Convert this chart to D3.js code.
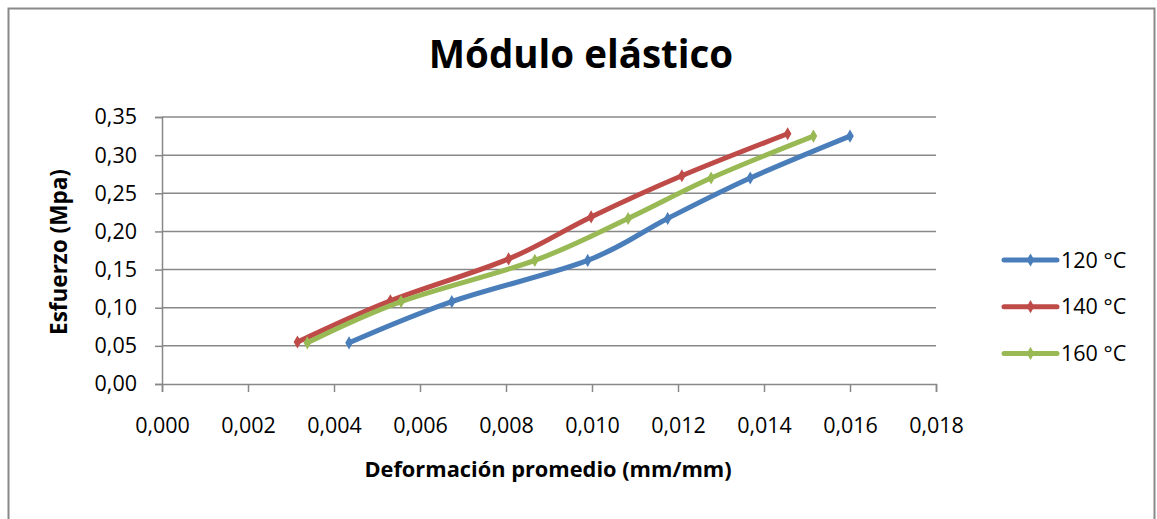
<!DOCTYPE html>
<html><head><meta charset="utf-8">
<script src="https://cdn.jsdelivr.net/npm/d3@7"></script>
<style>body{margin:0;background:#fff}svg{display:block}</style>
</head><body>
<svg id="c" width="1157" height="519"></svg>
<script>
const title = "Módulo elástico";
const xTitle = "Deformación promedio (mm/mm)";
const yTitle = "Esfuerzo (Mpa)";
const seriesNames = ["120 °C", "140 °C", "160 °C"];
const seriesColors = ["#4A7EBB", "#BE4B48", "#98B954"];
const strain120 = [0.00435, 0.00674, 0.00990, 0.01176, 0.01368, 0.01600];
const stress120 = [0.054, 0.108, 0.162, 0.217, 0.270, 0.325];
const strain140 = [0.00315, 0.00531, 0.00806, 0.00998, 0.01209, 0.01455];
const stress140 = [0.055, 0.109, 0.164, 0.219, 0.273, 0.328];
const strain160 = [0.00338, 0.00556, 0.00867, 0.01084, 0.01277, 0.01515];
const stress160 = [0.054, 0.108, 0.162, 0.217, 0.270, 0.325];
const xTicks = [0, 0.002, 0.004, 0.006, 0.008, 0.010, 0.012, 0.014, 0.016, 0.018];
const yTicks = [0, 0.05, 0.10, 0.15, 0.20, 0.25, 0.30, 0.35];

const svg = d3.select("#c");
const font = "'Open Sans', sans-serif";
svg.append("rect").attr("x", 8.5).attr("y", 8.5).attr("width", 1146).attr("height", 530)
  .attr("fill", "#fff").attr("stroke", "#898989").attr("stroke-width", 2);

const L = 162, R = 936, T = 117, B = 384;
const x = d3.scaleLinear().domain([0, 0.018]).range([L, R]);
const y = d3.scaleLinear().domain([0, 0.35]).range([B, T]);
const fmt = (d, n) => d.toFixed(n).replace(".", ",");

// gridlines
svg.append("g").selectAll("line").data(yTicks.filter(d => d > 0)).join("line")
  .attr("x1", L).attr("x2", R).attr("y1", d => y(d)).attr("y2", d => y(d))
  .attr("stroke", "#888").attr("stroke-width", 1.5);

// y axis
const ya = svg.append("g").attr("transform", `translate(${L},0)`)
  .call(d3.axisLeft(y).tickValues(yTicks).tickFormat(d => fmt(d, 2)).tickSize(7).tickPadding(18));
ya.select(".domain").attr("stroke", "#888").attr("stroke-width", 1.5);
ya.selectAll(".tick line").attr("stroke", "#888").attr("stroke-width", 1.5);
ya.selectAll("text").attr("font-family", font).attr("font-size", 21.5).attr("fill", "#000");

// x axis
const xa = svg.append("g").attr("transform", `translate(0,${B})`)
  .call(d3.axisBottom(x).tickValues(xTicks).tickFormat(d => fmt(d, 3)).tickSize(8).tickPadding(26));
xa.select(".domain").attr("stroke", "#888").attr("stroke-width", 1.5);
xa.selectAll(".tick line").attr("stroke", "#888").attr("stroke-width", 1.5);
xa.selectAll("text").attr("font-family", font).attr("font-size", 21.5).attr("fill", "#000");

// titles
svg.append("text").attr("x", 581).attr("y", 68).attr("text-anchor", "middle")
  .attr("font-family", font).attr("font-weight", 700).attr("font-size", 38.5).text(title);
svg.append("text").attr("x", 548).attr("y", 477).attr("text-anchor", "middle")
  .attr("font-family", font).attr("font-weight", 700).attr("font-size", 21.8).text(xTitle);
svg.append("text").attr("transform", "translate(67,252) rotate(-90)").attr("text-anchor", "middle")
  .attr("font-family", font).attr("font-weight", 700).attr("font-size", 22.5).text(yTitle);

// series
const series = [
  {name: seriesNames[0], color: seriesColors[0], pts: strain120.map((v, i) => [v, stress120[i]])},
  {name: seriesNames[1], color: seriesColors[1], pts: strain140.map((v, i) => [v, stress140[i]])},
  {name: seriesNames[2], color: seriesColors[2], pts: strain160.map((v, i) => [v, stress160[i]])}
];
const line = d3.line().x(d => x(d[0])).y(d => y(d[1])).curve(d3.curveCatmullRom.alpha(0));
const diamond = d3.symbol().type(d3.symbolDiamond).size(50);
series.forEach(s => {
  svg.append("path").attr("d", line(s.pts)).attr("fill", "none")
    .attr("stroke", s.color).attr("stroke-width", 5).attr("stroke-linecap", "round");
  svg.append("g").selectAll("path").data(s.pts).join("path")
    .attr("transform", d => `translate(${x(d[0])},${y(d[1])})`).attr("d", diamond).attr("fill", s.color);
});

// legend
const lg = svg.append("g");
series.forEach((s, i) => {
  const yy = 260 + i * 46.7;
  lg.append("line").attr("x1", 1004).attr("x2", 1057).attr("y1", yy).attr("y2", yy)
    .attr("stroke", s.color).attr("stroke-width", 5).attr("stroke-linecap", "round");
  lg.append("path").attr("transform", `translate(1030.5,${yy})`).attr("d", diamond).attr("fill", s.color);
  lg.append("text").attr("x", 1061).attr("y", yy).attr("dy", "0.35em")
    .attr("font-family", font).attr("font-size", 21.5).text(s.name);
});
</script>
</body></html>
